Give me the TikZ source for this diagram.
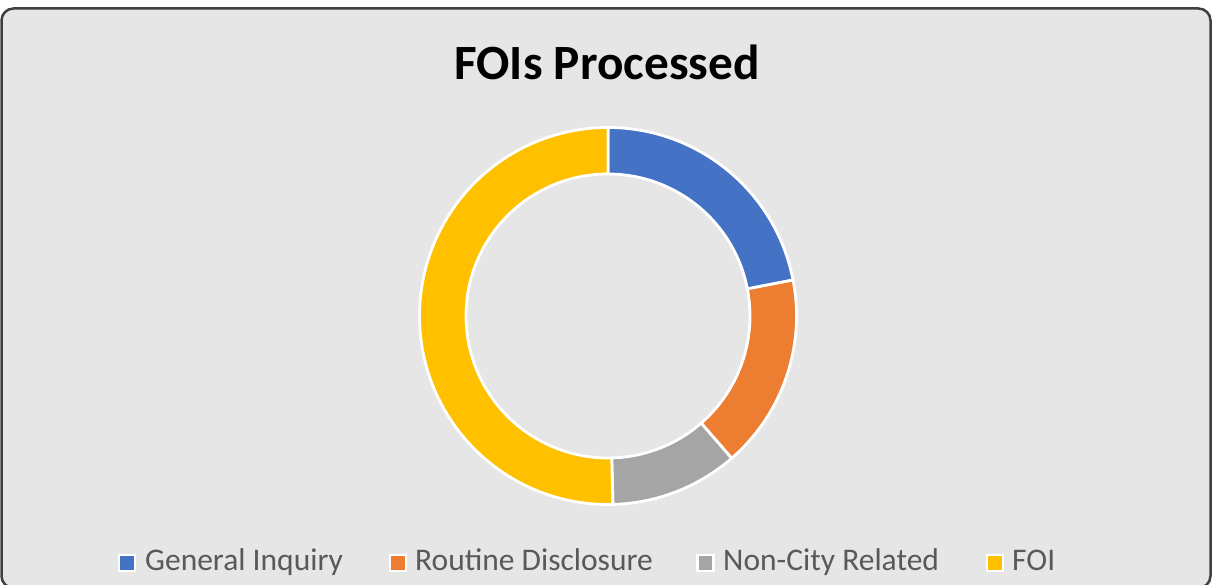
\documentclass[tikz,border=0pt]{standalone}
\usepackage{fontspec}
\setmainfont{Carlito}
\definecolor{chartbg}{HTML}{E7E6E6}
\definecolor{frame}{HTML}{404040}
\definecolor{legtext}{HTML}{595959}
\definecolor{cblue}{HTML}{4472C4}
\definecolor{corange}{HTML}{ED7D31}
\definecolor{cgrey}{HTML}{A5A5A5}
\definecolor{cgold}{HTML}{FFC000}
\begin{document}
\begin{tikzpicture}[x=1pt,y=1pt,
  slice/.style={draw=white,line width=2.8pt,line join=miter},
  legsq/.style={draw=white,line width=2.4pt,minimum size=16pt,inner sep=0pt,outer sep=0pt},
  legtxt/.style={anchor=base west,inner sep=0pt,text=legtext,font=\fontsize{31.5}{36}\selectfont},
]
\useasboundingbox (0,0) rectangle (1216,585);
% chart area
\draw[frame,fill=chartbg,line width=2.5pt,rounded corners=12pt]
  (1.5,576.5) rectangle (1210.5,-3);
% title
\node[anchor=base,inner sep=0pt,font=\fontsize{49.3}{58}\selectfont\bfseries] (title) at (607,505) {FOIs Processed};
% doughnut ring
\def\R{188.5}
\def\r{142}
\begin{scope}[shift={(608,269)}]
  \filldraw[slice,fill=cblue]   (90:\R) arc (90:11:\R) -- (11:\r) arc (11:90:\r) -- cycle;
  \filldraw[slice,fill=corange] (11:\R) arc (11:-49:\R) -- (-49:\r) arc (-49:11:\r) -- cycle;
  \filldraw[slice,fill=cgrey]   (-49:\R) arc (-49:-88.5:\R) -- (-88.5:\r) arc (-88.5:-49:\r) -- cycle;
  \filldraw[slice,fill=cgold]   (-88.5:\R) arc (-88.5:-270:\R) -- (-270:\r) arc (-270:-88.5:\r) -- cycle;
\end{scope}
% legend
\node[legsq,fill=cblue]   (k1) at (127,22) {};
\node[legtxt] (t1) at (145,14) {General Inquiry};
\node[legsq,fill=corange] (k2) at (398,22) {};
\node[legtxt] (t2) at (415,14) {Routine Disclosure};
\node[legsq,fill=cgrey]   (k3) at (705.5,22) {};
\node[legtxt] (t3) at (723,14) {Non-City Related};
\node[legsq,fill=cgold]   (k4) at (995,22) {};
\node[legtxt] (t4) at (1012,14) {FOI};
\end{tikzpicture}
\end{document}
